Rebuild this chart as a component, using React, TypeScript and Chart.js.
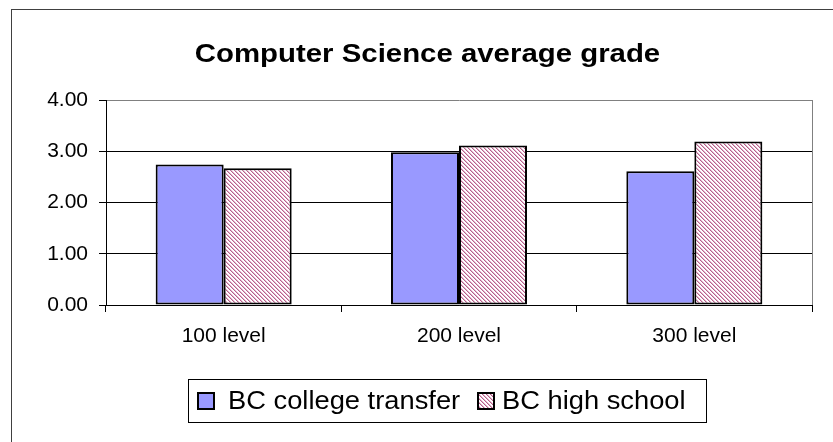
import React, { useEffect, useRef } from "react";
import { Chart, registerables } from "chart.js";

Chart.register(...registerables);

const chartTitle = "Computer Science average grade";
const categories = ["100 level", "200 level", "300 level"];
const seriesLabels = ["BC college transfer", "BC high school"];
const collegeTransfer = [2.74, 2.98, 2.61];
const highSchool = [2.67, 3.11, 3.19];
const yMin = 0;
const yMax = 4;
const yStep = 1;

const FONT = '"Liberation Sans", Arial, sans-serif';

function makeHatch(ctx: CanvasRenderingContext2D): CanvasPattern | string {
  const c = document.createElement("canvas");
  c.width = 8;
  c.height = 8;
  const g = c.getContext("2d");
  if (!g) return "#c080a0";
  const img = g.createImageData(8, 8);
  for (let y = 0; y < 8; y++) {
    for (let x = 0; x < 8; x++) {
      const d = (((x - y) % 4) + 4) % 4;
      let r = 255, gg = 255, b = 255;
      if (d === 0) { r = 184; gg = 96; b = 140; }
      else if (d === 1) { r = 226; gg = 182; b = 204; }
      const i = (y * 8 + x) * 4;
      img.data[i] = r;
      img.data[i + 1] = gg;
      img.data[i + 2] = b;
      img.data[i + 3] = 255;
    }
  }
  g.putImageData(img, 0, 0);
  return ctx.createPattern(c, "repeat") || "#c080a0";
}

const framePlugin = {
  id: "frameAndExtras",
  beforeDraw(chart: any) {
    const ctx: CanvasRenderingContext2D = chart.ctx;
    ctx.save();
    ctx.fillStyle = "#ffffff";
    ctx.fillRect(0, 0, chart.width, chart.height);
    ctx.strokeStyle = "#404040";
    ctx.lineWidth = 1;
    ctx.strokeRect(11.5, 9.5, chart.width + 40, chart.height + 40);
    ctx.restore();
  },
  afterDraw(chart: any) {
    const ctx: CanvasRenderingContext2D = chart.ctx;
    const area = chart.chartArea;
    ctx.save();
    // plot area right border (gray)
    ctx.strokeStyle = "#808080";
    ctx.lineWidth = 1;
    ctx.beginPath();
    ctx.moveTo(Math.round(area.right) + 0.5, area.top);
    ctx.lineTo(Math.round(area.right) + 0.5, area.bottom);
    ctx.stroke();

    // title
    ctx.fillStyle = "#000";
    ctx.font = `bold 26px ${FONT}`;
    ctx.textAlign = "center";
    ctx.textBaseline = "alphabetic";
    ctx.save();
    ctx.translate(427.5, 61.5);
    ctx.scale(1.13, 1);
    ctx.fillText(chartTitle, 0, 0);
    ctx.restore();

    // legend box
    ctx.strokeStyle = "#000";
    ctx.lineWidth = 1;
    ctx.strokeRect(188.5, 379.5, 518, 43);
    const squareX = [198, 478];
    const textX = [228, 502];
    ctx.font = `26px ${FONT}`;
    ctx.textAlign = "left";
    chart.data.datasets.forEach((ds: any, i: number) => {
      ctx.fillStyle = ds.backgroundColor;
      ctx.fillRect(squareX[i], 393, 16, 16);
      ctx.strokeStyle = "#000";
      ctx.lineWidth = 2;
      ctx.strokeRect(squareX[i], 393, 16, 16);
      ctx.fillStyle = "#000";
      ctx.save();
      ctx.translate(textX[i], 408.5);
      ctx.scale(1.05, 1);
      ctx.fillText(ds.label, 0, 0);
      ctx.restore();
    });
    ctx.restore();
  },
};

export default function App() {
  const ref = useRef<HTMLCanvasElement | null>(null);

  useEffect(() => {
    const canvas = ref.current;
    if (!canvas) return;
    const ctx = canvas.getContext("2d");
    if (!ctx) return;
    const hatch = makeHatch(ctx);

    const chart = new Chart(canvas, {
      type: "bar",
      data: {
        labels: categories,
        datasets: [
          {
            label: seriesLabels[0],
            data: collegeTransfer,
            backgroundColor: "#9999ff",
            borderColor: "#000000",
            borderWidth: 2,
            borderSkipped: false,
            categoryPercentage: 0.578,
            barPercentage: 1,
          },
          {
            label: seriesLabels[1],
            data: highSchool,
            backgroundColor: hatch as any,
            borderColor: "#000000",
            borderWidth: 2,
            borderSkipped: false,
            categoryPercentage: 0.578,
            barPercentage: 1,
          },
        ],
      },
      options: {
        animation: false,
        responsive: false,
        devicePixelRatio: 1,
        layout: { padding: { left: 0, top: 100, right: 21, bottom: 77 } },
        plugins: {
          legend: { display: false },
          title: { display: false },
          tooltip: { enabled: false },
        },
        scales: {
          x: {
            type: "category",
            offset: true,
            grid: {
              display: true,
              drawOnChartArea: false,
              drawTicks: true,
              tickLength: 7,
              tickColor: "#000",
              offset: true,
            },
            border: { display: true, color: "#000", width: 1 },
            ticks: {
              color: "#000",
              font: { family: FONT, size: 21 },
              padding: 12,
              maxRotation: 0,
              autoSkip: false,
            },
            afterFit(scale: any) {
              scale.height = 60;
            },
          },
          y: {
            min: yMin,
            max: yMax,
            grid: {
              color: (c: any) => (c.tick && c.tick.value === yMax ? "#808080" : "#000"),
              tickColor: "#000",
              tickLength: 7,
              lineWidth: 1,
            },
            border: { display: true, color: "#000", width: 1 },
            ticks: {
              stepSize: yStep,
              color: "#000",
              font: { family: FONT, size: 21 },
              padding: 11,
              callback: (v: any) => Number(v).toFixed(2),
            },
            afterFit(scale: any) {
              scale.width = 106;
            },
          },
        },
      },
      plugins: [framePlugin],
    });

    return () => chart.destroy();
  }, []);

  return (
    <div style={{ position: "absolute", left: 0, top: 0, width: 833, height: 442 }}>
      <canvas ref={ref} width={833} height={442} style={{ width: 833, height: 442, display: "block" }} />
    </div>
  );
}
